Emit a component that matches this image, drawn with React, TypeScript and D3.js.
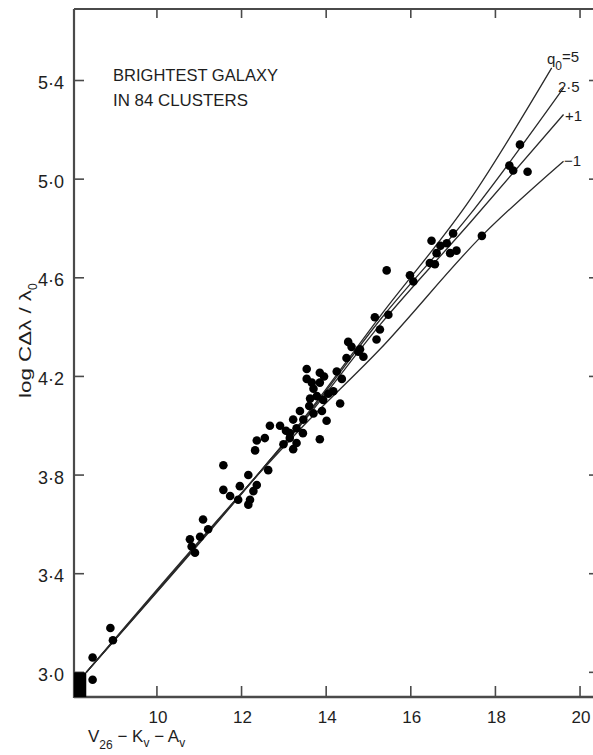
import React from "react";
import * as d3 from "d3";

// ---- data ----
const galaxyMag: number[] = [
  8.48, 8.48, 8.90, 8.96,
  10.78, 10.82, 10.90, 11.02, 11.09, 11.21,
  11.57, 11.57, 11.73, 11.92, 11.96, 12.16, 12.16, 12.20, 12.28, 12.36, 12.63,
  12.32, 12.36, 12.55, 12.67, 12.91,
  12.99, 13.14, 13.22, 13.14, 13.22, 13.30, 13.38, 13.46, 13.54, 13.54, 13.62, 13.66, 13.70, 13.70,
  13.85, 13.85, 13.85, 13.93, 14.01, 14.17, 14.33, 14.37, 14.48, 14.52, 14.76, 14.80, 14.88,
  15.15, 15.19, 15.27, 15.47, 15.43,
  15.98, 16.06,
  16.49, 16.57, 16.61, 16.85, 16.93, 17.00, 17.08, 17.68,
  18.33, 18.42, 18.58, 18.76,
  13.30, 13.05, 13.60, 13.78, 13.45, 14.05, 13.95, 14.25, 13.90, 14.60, 16.45, 16.70,
];
const galaxyLogCz: number[] = [
  2.97, 3.06, 3.18, 3.13,
  3.54, 3.51, 3.485, 3.55, 3.62, 3.58,
  3.84, 3.74, 3.715, 3.70, 3.755, 3.80, 3.68, 3.70, 3.735, 3.76, 3.82,
  3.90, 3.94, 3.95, 4.00, 4.00,
  3.925, 3.95, 3.905, 3.97, 4.025, 3.99, 4.06, 4.025, 4.23, 4.19, 4.11, 4.175, 4.15, 4.05,
  4.215, 4.175, 3.945, 4.105, 4.02, 4.14, 4.09, 4.19, 4.275, 4.34, 4.30, 4.31, 4.28,
  4.44, 4.35, 4.39, 4.45, 4.63,
  4.61, 4.585,
  4.75, 4.655, 4.70, 4.74, 4.70, 4.78, 4.71, 4.77,
  5.055, 5.035, 5.14, 5.03,
  3.93, 3.98, 4.08, 4.12, 3.97, 4.13, 4.20, 4.22, 4.06, 4.32, 4.66, 4.73,
];

// theoretical relations (q0 = 5, 2.5, +1, -1)
const curveQ5Mag: number[] = [8.33, 12.5, 13.38, 15.3, 17.4, 19.33];
const curveQ5Val: number[] = [3.0, 3.826, 4.01, 4.45, 4.917, 5.451];
const curveQ25Mag: number[] = [8.33, 12.5, 13.38, 15.3, 17.4, 19.61];
const curveQ25Val: number[] = [3.0, 3.826, 4.005, 4.435, 4.857, 5.37];
const curveQ1Mag: number[] = [8.33, 12.5, 13.38, 15.3, 17.4, 19.61];
const curveQ1Val: number[] = [3.0, 3.826, 4.0, 4.415, 4.823, 5.262];
const curveQm1Mag: number[] = [8.33, 12.5, 13.38, 15.27, 17.68, 19.61];
const curveQm1Val: number[] = [3.0, 3.822, 3.985, 4.31, 4.77, 5.073];

const xTicks: number[] = [10, 12, 14, 16, 18, 20];
const yTicks: number[] = [3.0, 3.4, 3.8, 4.2, 4.6, 5.0, 5.4];
const yTickLabels: string[] = ["3·0", "3·4", "3·8", "4·2", "4·6", "5·0", "5·4"];

const W = 593;
const H = 755;

export default function App() {
  const x = d3.scaleLinear().domain([8.04, 20.33]).range([74, 594]);
  const y = d3.scaleLinear().domain([2.9, 5.69]).range([697, 9]);

  const line = d3
    .line<[number, number]>()
    .curve(d3.curveMonotoneX)
    .x((d) => x(d[0]))
    .y((d) => y(d[1]));

  const mk = (ms: number[], vs: number[]): [number, number][] =>
    ms.map((m, i) => [m, vs[i]] as [number, number]);

  const curves: [number, number][][] = [
    mk(curveQ5Mag, curveQ5Val),
    mk(curveQ25Mag, curveQ25Val),
    mk(curveQ1Mag, curveQ1Val),
    mk(curveQm1Mag, curveQm1Val),
  ];

  const axisColor = "#4a4a4a";
  const textColor = "#1e1e1e";
  const font = "'Liberation Sans', Arial, sans-serif";
  const xLeft = x(8.04);
  const xRight = 599;
  const yTop = 9;
  const yBottom = y(2.9);

  return (
    <svg
      width={W}
      height={H}
      style={{ position: "absolute", left: 0, top: 0, background: "#fff" }}
      fontFamily={font}
    >
      <rect x={0} y={0} width={W} height={H} fill="#fff" />

      {/* frame */}
      <line x1={xLeft} x2={xLeft} y1={yTop} y2={yBottom + 1} stroke={axisColor} strokeWidth={2.2} />
      <line x1={xLeft} x2={xRight} y1={yBottom} y2={yBottom} stroke={axisColor} strokeWidth={2.4} />
      <line x1={xLeft} x2={xRight} y1={yTop} y2={yTop} stroke={axisColor} strokeWidth={2.2} />
      <line x1={xRight} x2={xRight} y1={yTop} y2={yBottom} stroke={axisColor} strokeWidth={2.2} />

      {/* x ticks */}
      {xTicks.map((t) => (
        <g key={"xt" + t}>
          <line x1={x(t)} x2={x(t)} y1={yBottom} y2={yBottom - 11} stroke={axisColor} strokeWidth={1.6} />
          <line x1={x(t)} x2={x(t)} y1={yTop} y2={yTop + 9} stroke={axisColor} strokeWidth={1.6} />
          <text x={x(t) + 1} y={723} textAnchor="middle" fontSize={17} fill={textColor}>
            {t}
          </text>
        </g>
      ))}

      {/* y ticks */}
      {yTicks.map((t, i) => (
        <g key={"yt" + t}>
          <line x1={xLeft} x2={xLeft + 10} y1={y(t)} y2={y(t)} stroke={axisColor} strokeWidth={1.6} />
          <line x1={xRight} x2={xRight - 10} y1={y(t)} y2={y(t)} stroke={axisColor} strokeWidth={1.6} />
          <text x={64} y={y(t) + 8.5} textAnchor="end" fontSize={18} fill={textColor}>
            {yTickLabels[i]}
          </text>
        </g>
      ))}

      {/* black block in the corner */}
      <rect
        x={x(8.04)}
        y={y(3.0)}
        width={x(8.33) - x(8.04)}
        height={y(2.9) - y(3.0)}
        fill="#000"
      />

      {/* theory curves */}
      {curves.map((c, i) => (
        <path key={"c" + i} d={line(c) || ""} fill="none" stroke="#2a2a2a" strokeWidth={1.3} />
      ))}

      {/* galaxies */}
      {galaxyMag.map((m, i) => (
        <circle key={"p" + i} cx={x(m)} cy={y(galaxyLogCz[i])} r={4.3} fill="#000" />
      ))}

      {/* curve labels */}
      <text x={547} y={64} fontSize={15} fill={textColor}>
        q<tspan dy={6} fontSize={12}>0</tspan>
        <tspan dy={-8}>=5</tspan>
      </text>
      <text x={558} y={92} fontSize={15} fill={textColor}>2·5</text>
      <text x={565} y={121} fontSize={15} fill={textColor}>+1</text>
      <text x={564} y={166} fontSize={15} fill={textColor}>−1</text>

      {/* title */}
      <text x={113} y={81} fontSize={17} fill={textColor} textLength={165} lengthAdjust="spacingAndGlyphs">
        BRIGHTEST GALAXY
      </text>
      <text x={113} y={106} fontSize={17} fill={textColor} textLength={135} lengthAdjust="spacingAndGlyphs">
        IN 84 CLUSTERS
      </text>

      {/* y label */}
      <text transform="translate(31,398) rotate(-90)" fontSize={16} fill={textColor}>
        <tspan textLength={108} lengthAdjust="spacingAndGlyphs">log CΔλ / λ</tspan>
        <tspan dy={6} fontSize={12}>0</tspan>
      </text>

      {/* x label */}
      <text x={88} y={742} fontSize={17} fill={textColor}>
        V<tspan dy={7} fontSize={12}>26</tspan>
        <tspan dy={-7}> − K</tspan>
        <tspan dy={5} fontSize={12}>v</tspan>
        <tspan dy={-5}> − A</tspan>
        <tspan dy={5} fontSize={12}>v</tspan>
      </text>
    </svg>
  );
}
